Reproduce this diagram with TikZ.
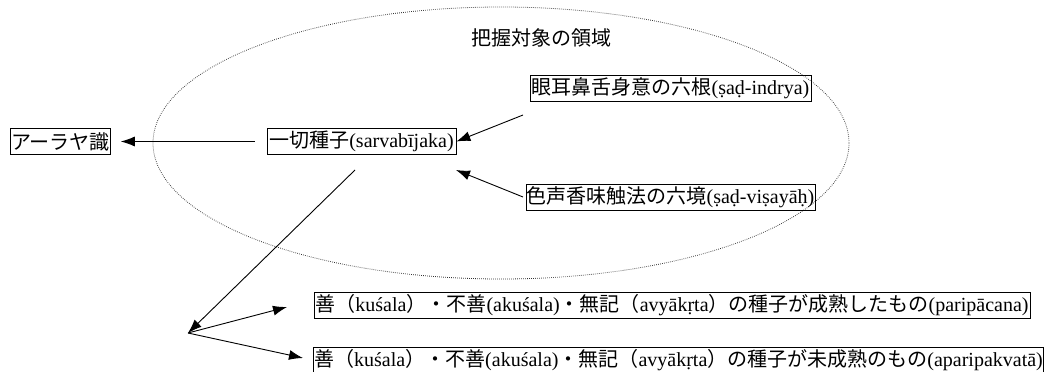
\documentclass[tikz,border=0pt]{standalone}
\usepackage{fontspec}
\setmainfont{Liberation Serif}
\newfontfamily\jp{Noto Sans CJK JP}
\usetikzlibrary{arrows.meta}

\begin{document}
\begin{tikzpicture}[%
      x=1pt, y=-1pt,
      box/.style={draw, line width=0.7pt, inner xsep=0.5pt, inner ysep=0pt,
                  minimum height=26pt, font=\fontsize{20}{22}\selectfont},
      arr/.style={-{Latex[length=14pt,width=10pt]}, line width=0.9pt},
      ]
      \useasboundingbox (0,0) rectangle (1044,372);

      % region of the grasped objects
      \draw [color=black!80, line width=0.8pt, dash pattern=on 0.7pt off 1.3pt] (501,143) ellipse (348pt and 136pt);
      \node (region) at (541,38) {\fontsize{20}{22}\selectfont\jp 把握対象の領域};

      \node [box, minimum width=97pt] (alaya) at (60.5,141.5) {\jp アーラヤ識};
      \node [box, minimum width=189pt] (seed) at (361.5,141.5) {{\jp 一切種子}(sarvabījaka)};
      \node [box, minimum width=281pt] (indriya) at (670.5,88.5) {{\jp 眼耳鼻舌身意の六根}(ṣaḍ-indrya)};
      \node [box, minimum width=281pt] (visaya) at (670.5,197) {{\jp 色声香味触法の六境}(ṣaḍ-viṣayāḥ)};
      \node [box, minimum width=716pt] (ripe) at (672,305) {{\jp 善（}kuśala{\jp ）・不善}(akuśala){\jp ・無記（}avyākṛta{\jp ）の種子が成熟したもの}(paripācana)};
      \node [box, minimum width=729pt] (unripe) at (678.5,360) {{\jp 善（}kuśala{\jp ）・不善}(akuśala){\jp ・無記（}avyākṛta{\jp ）の種子が未成熟のもの}(aparipakvatā)};

      \coordinate (i1) at (523,115);
      \coordinate (v1) at (523,197);
      \coordinate (v2) at (456,170);
      \coordinate (s1) at (355,170);
      \coordinate (fork) at (188,333);
      \coordinate (r1) at (287,307);
      \coordinate (u1) at (303,358);

      \draw [arr, shorten <=12pt, shorten >=10pt] (seed) -- (alaya);
      \draw [arr] (i1) -- (seed.east);
      \draw [arr] (v1) -- (v2);
      \draw [arr] (s1) -- (fork);
      \draw [arr] (fork) -- (r1);
      \draw [arr] (fork) -- (u1);
\end{tikzpicture}
\end{document}
